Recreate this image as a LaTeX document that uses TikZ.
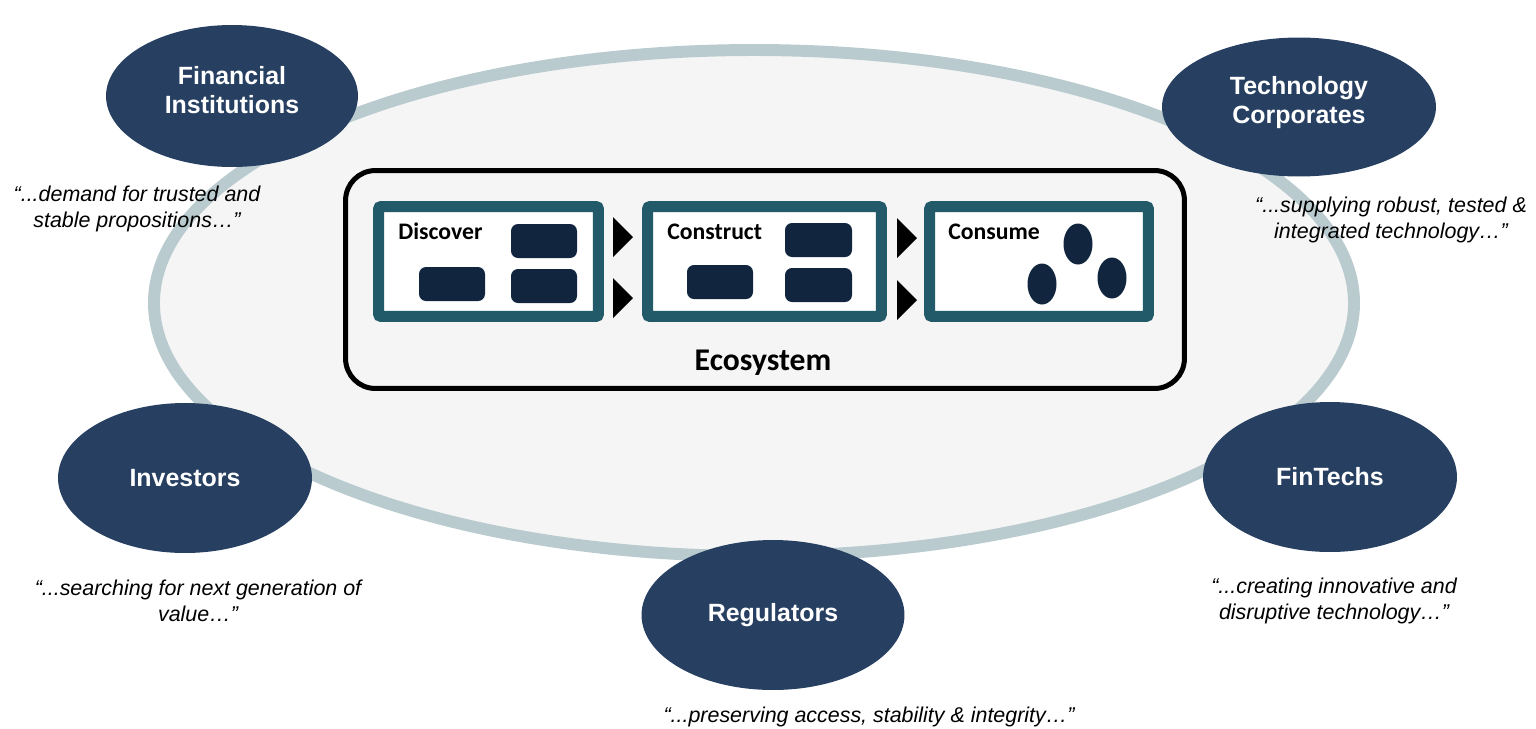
\documentclass[tikz,border=0pt]{standalone}
\usepackage{fontspec}
\setmainfont{Liberation Sans}
\newfontfamily\calibri{Carlito}
\usetikzlibrary{shapes.geometric}

\definecolor{actorblue}{HTML}{274062}
\definecolor{blockblue}{HTML}{12253F}
\definecolor{stageteal}{HTML}{235A69}
\definecolor{ringgrey}{HTML}{BACBCF}
\definecolor{ovalgrey}{HTML}{F5F5F5}

\begin{document}
\begin{tikzpicture}[x=0.02cm, y=-0.02cm,
    actor/.style={ellipse, fill=actorblue, text=white, inner sep=0pt, align=center,
        font=\fontsize{14.2}{16.5}\selectfont\bfseries},
    quote/.style={inner sep=0pt, align=center, font=\fontsize{12.2}{14.5}\selectfont\itshape},
    stage/.style={draw=stageteal, line width=6.26pt, fill=white, rounded corners=1.5pt,
        minimum height=2.2cm, inner sep=0pt},
    stagelabel/.style={anchor=base west, inner sep=0pt, font=\calibri\fontsize{13.5}{16}\selectfont\bfseries},
    block/.style={fill=blockblue, rounded corners=4pt}]

    \useasboundingbox (0,0) rectangle (1536,728);

    % Ecosystem ring
    \draw[ringgrey, line width=6.8pt, fill=ovalgrey] (754,303) ellipse [x radius=600, y radius=253];

    % Ecosystem box
    \node[draw, line width=2.85pt, rounded corners=17pt, minimum width=16.78cm, minimum height=4.36cm,
        inner sep=0pt] (ecobox) at (765,279.5) {};
    \node[anchor=base, inner sep=0pt, font=\calibri\fontsize{18}{21}\selectfont\bfseries]
        (ecolabel) at (763,370) {Ecosystem};

    % Stages
    \node[stage, minimum width=4.4cm] (discover) at (488.5,261.5) {};
    \node[stage, minimum width=4.68cm] (construct) at (764.5,261.5) {};
    \node[stage, minimum width=4.38cm] (consume) at (1039,261.5) {};

    \node[stagelabel] (discoverlabel) at (398,239) {Discover};
    \node[stagelabel] (constructlabel) at (667,239) {Construct};
    \node[stagelabel] (consumelabel) at (948,239) {Consume};

    % Discover blocks
    \fill[block] (511,224) rectangle (577,258);
    \fill[block] (419,267) rectangle (485,301);
    \fill[block] (511,269) rectangle (577,303);

    % Construct blocks
    \fill[block] (785,223) rectangle (852,257);
    \fill[block] (687,265) rectangle (753,299);
    \fill[block] (785,268) rectangle (852,302);

    % Consume dots
    \fill[blockblue] (1078,244) ellipse [x radius=14.5, y radius=20.5];
    \fill[blockblue] (1042,284) ellipse [x radius=14.5, y radius=20.5];
    \fill[blockblue] (1112,278) ellipse [x radius=14.5, y radius=20.5];

    % Chevrons
    \fill (613,217) -- (633,237) -- (613,257) -- cycle;
    \fill (613,278) -- (633,298) -- (613,318) -- cycle;
    \fill (897,218) -- (917,238) -- (897,258) -- cycle;
    \fill (897,280) -- (917,300) -- (897,320) -- cycle;

    % Actors
    \node[actor, text depth=6.8pt, minimum width=5.04cm, minimum height=2.84cm] (fininst) at (232,96)
        {Financial\\Institutions};
    \node[actor, text depth=7.6pt, minimum width=5.48cm, minimum height=2.78cm] (techcorp) at (1299,107)
        {Technology\\Corporates};
    \node[actor, minimum width=5.08cm, minimum height=3.0cm] (investors) at (185,478) {Investors};
    \node[actor, minimum width=5.08cm, minimum height=3.0cm] (fintechs) at (1330,477) {FinTechs};
    \node[actor, minimum width=5.26cm, minimum height=3.0cm] (regulators) at (773,615) {Regulators};

    % Quotes
    \node[quote] (fininstquote) at (137,209)
        {``...demand for trusted and\\stable propositions\dots''};
    \node[quote] (techcorpquote) at (1391,220)
        {``...supplying robust, tested \&\\integrated technology\dots''};
    \node[quote] (investorsquote) at (198,601)
        {``...searching for next generation of\\value\dots''};
    \node[quote] (fintechsquote) at (1334,601)
        {``...creating innovative and\\disruptive technology\dots''};
    \node[quote, anchor=base] (regulatorsquote) at (869,722)
        {``...preserving access, stability \& integrity\dots''};
\end{tikzpicture}
\end{document}
